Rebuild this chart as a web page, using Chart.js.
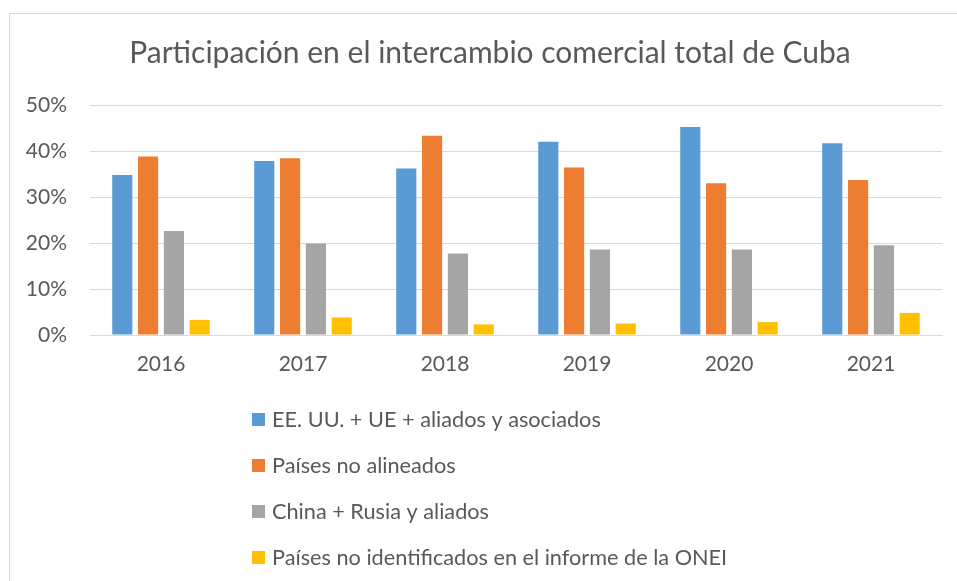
<!DOCTYPE html>
<html>
<head>
<meta charset="utf-8">
<script src="https://cdn.jsdelivr.net/npm/chart.js@4"></script>
<style>
  body { margin: 0; background: #fff; overflow: hidden; }
  #box { position: absolute; left: 9px; top: 13px; width: 963px; height: 600px; border: 1px solid #d9d9d9; }
</style>
</head>
<body>
<div id="box"><canvas id="chart" width="963" height="600"></canvas></div>
<script>
// Datos (porcentaje del intercambio comercial)
const years = ["2016", "2017", "2018", "2019", "2020", "2021"];
const occidente = [34.8, 37.8, 36.2, 42.0, 45.2, 41.7];
const noAlineados = [38.8, 38.4, 43.3, 36.4, 33.0, 33.7];
const chinaRusia = [22.6, 19.9, 17.7, 18.6, 18.6, 19.5];
const noIdentificados = [3.3, 3.8, 2.3, 2.5, 2.8, 4.8];
const yTicks = [0, 10, 20, 30, 40, 50];

const textColor = "#595959";
const fontFamily = "Lato, 'Open Sans', sans-serif";

// leyenda vertical debajo del gráfico, como en Excel
const verticalLegend = {
  id: "verticalLegend",
  afterLayout(chart) {
    // el título de Excel está centrado un poco más a la derecha
    const t = chart.titleBlock;
    if (t) { t.left = 28; t.right = 932; }
  },
  afterDraw(chart) {
    const c = chart.ctx;
    c.save();
    c.font = "21.7px " + fontFamily;
    c.textBaseline = "middle";
    chart.data.datasets.forEach((ds, i) => {
      const y = 405 + i * 46;
      c.fillStyle = ds.backgroundColor;
      c.fillRect(242, y - 6, 13, 13);
      c.fillStyle = textColor;
      c.fillText(ds.label, 262, y + 1);
    });
    c.restore();
  },
};

document.addEventListener("DOMContentLoaded", () => {
  const ctx = document.getElementById("chart").getContext("2d");

  new Chart(ctx, {
    type: "bar",
    data: {
      labels: years,
      datasets: [
        { label: "EE. UU. + UE + aliados y asociados", data: occidente, backgroundColor: "#5B9BD5" },
        { label: "Países no alineados", data: noAlineados, backgroundColor: "#ED7D31" },
        { label: "China + Rusia y aliados", data: chinaRusia, backgroundColor: "#A5A5A5" },
        { label: "Países no identificados en el informe de la ONEI", data: noIdentificados, backgroundColor: "#FFC000" },
      ],
    },
    options: {
      responsive: false,
      animation: false,
      layout: { padding: { left: 0, right: 31, bottom: 219 } },
      datasets: {
        bar: { categoryPercentage: 0.727, barPercentage: 0.78 },
      },
      scales: {
        x: {
          grid: { display: false, drawTicks: false },
          border: { color: "#d9d9d9" },
          ticks: { color: textColor, font: { family: fontFamily, size: 21 }, padding: 17 },
          afterFit(scale) { scale.height = 60; },
        },
        y: {
          min: 0,
          max: 50,
          afterBuildTicks(scale) { scale.ticks = yTicks.map((v) => ({ value: v })); },
          grid: { color: "#d9d9d9", drawTicks: false },
          border: { display: false },
          ticks: {
            color: textColor,
            font: { family: fontFamily, size: 21 },
            padding: 23,
            callback: (v) => v + "%",
          },
          afterFit(scale) { scale.width = 80; },
        },
      },
      plugins: {
        legend: { display: false },
        tooltip: { enabled: false },
        title: {
          display: true,
          text: "Participación en el intercambio comercial total de Cuba",
          color: textColor,
          font: { family: fontFamily, size: 30, weight: "normal" },
          padding: { top: 21, bottom: 34 },
        },
      },
    },
    plugins: [verticalLegend],
  });
});
</script>
</body>
</html>
